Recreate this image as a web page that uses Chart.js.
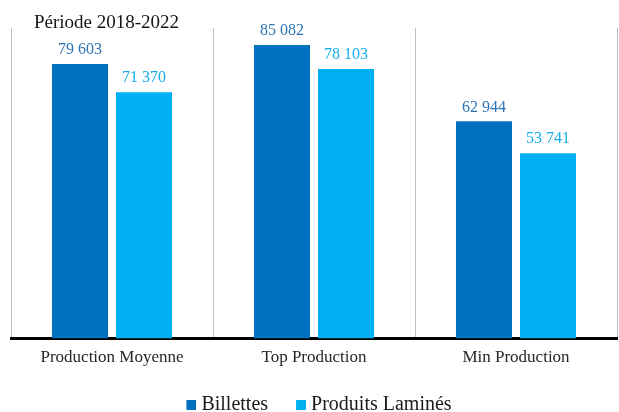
<!DOCTYPE html>
<html>
<head>
<meta charset="utf-8">
<script src="https://cdn.jsdelivr.net/npm/chart.js@4.4.0/dist/chart.umd.min.js"></script>
<style>
  html, body { margin: 0; padding: 0; background: #fff; }
  #wrap { width: 619px; height: 412px; position: relative; }
</style>
</head>
<body>
<div id="wrap"><canvas id="chart"></canvas></div>
<script>
/* ─── Data ───────────────────────────────────────────────────── */
const TITLE      = 'Période 2018-2022';
const CATEGORIES = ['Production Moyenne', 'Top Production', 'Min Production'];
const BILLETTES  = [79603, 85082, 62944];
const LAMINES    = [71370, 78103, 53741];
const SERIES     = ['Billettes', 'Produits Laminés'];

const FONT = "'Liberation Serif', 'DejaVu Serif', serif";
const COLORS = { bar: ['#0070C0', '#00B0F0'], label: ['#2E75B6', '#13AEEB'] };

function fmt(v) {
  return String(v).replace(/\B(?=(\d{3})+(?!\d))/g, ' ');
}

// legend marker: 10px square at the right end of a 25px canvas,
// so the text ends up close to the square like in the original
function makeSquare(color) {
  const c = document.createElement('canvas');
  c.width = 25;
  c.height = 10;
  const g = c.getContext('2d');
  g.fillStyle = color;
  g.fillRect(15, 0, 10, 10);
  return c;
}
const SQUARES = COLORS.bar.map(makeSquare);

/* ─── Plugins ────────────────────────────────────────────────── */
const valueLabels = {
  id: 'valueLabels',
  afterDatasetsDraw(chart) {
    const ctx = chart.ctx;
    ctx.save();
    ctx.font = `16px ${FONT}`;
    ctx.textAlign = 'center';
    ctx.textBaseline = 'middle';
    chart.data.datasets.forEach((ds, i) => {
      ctx.fillStyle = COLORS.label[i];
      chart.getDatasetMeta(i).data.forEach((bar, j) => {
        ctx.fillText(fmt(ds.data[j]), bar.x, bar.y - 14);
      });
    });
    ctx.restore();
  }
};

const cornerTitle = {
  id: 'cornerTitle',
  afterDraw(chart) {
    const ctx = chart.ctx;
    ctx.save();
    ctx.font = `19px ${FONT}`;
    ctx.fillStyle = '#141414';
    ctx.textAlign = 'left';
    ctx.textBaseline = 'middle';
    ctx.fillText(TITLE, 34, 23);
    ctx.restore();
  }
};

/* ─── Chart ──────────────────────────────────────────────────── */
new Chart(document.getElementById('chart'), {
  type: 'bar',
  data: {
    labels: CATEGORIES,
    datasets: [
      { label: SERIES[0], data: BILLETTES, backgroundColor: COLORS.bar[0] },
      { label: SERIES[1], data: LAMINES,   backgroundColor: COLORS.bar[1] },
    ],
  },
  options: {
    responsive: true,
    maintainAspectRatio: false,
    animation: false,
    categoryPercentage: 0.634,
    barPercentage: 0.875,
    layout: { padding: { left: 11, right: 2, top: 28, bottom: -13 } },
    scales: {
      x: {
        grid: { offset: true, color: '#bfbfbf', lineWidth: 1, drawTicks: false },
        border: { color: '#000', width: 3 },
        ticks: { color: '#262626', font: { family: FONT, size: 17 }, padding: 9 },
      },
      y: {
        display: false,
        min: 0,
        max: 90000,
      },
    },
    plugins: {
      legend: {
        position: 'bottom',
        labels: {
          color: '#1a1a1a',
          font: { family: FONT, size: 20 },
          usePointStyle: true,
          pointStyleWidth: 15,
          padding: 18,
          generateLabels(chart) {
            const items = Chart.defaults.plugins.legend.labels.generateLabels(chart);
            items.forEach((it, i) => { it.pointStyle = SQUARES[i]; });
            return items;
          },
        },
      },
      tooltip: { enabled: false },
    },
  },
  plugins: [valueLabels, cornerTitle],
});
</script>
</body>
</html>
